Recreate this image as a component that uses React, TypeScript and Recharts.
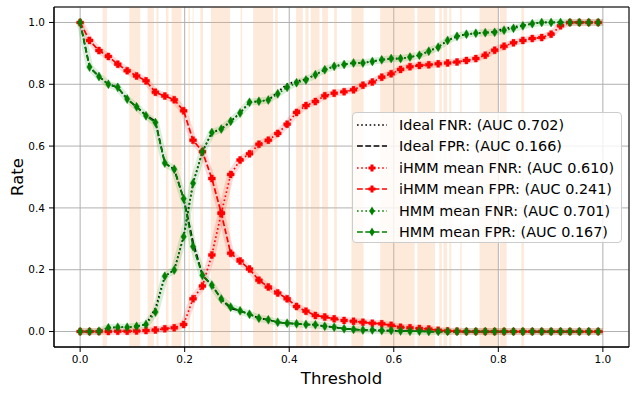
import { LineChart, Line, XAxis, YAxis, CartesianGrid, ReferenceArea, Legend, Label } from 'recharts'

// marker thresholds (every 18th of 1000 samples) plus the final threshold
const thresholds = [
  0, 0.018, 0.036, 0.054, 0.072, 0.09, 0.108, 0.126, 0.144, 0.162,
  0.18, 0.198, 0.216, 0.234, 0.252, 0.27, 0.288, 0.306, 0.324, 0.342,
  0.36, 0.378, 0.396, 0.414, 0.432, 0.45, 0.468, 0.486, 0.505, 0.523,
  0.541, 0.559, 0.577, 0.595, 0.613, 0.631, 0.649, 0.667, 0.685, 0.703,
  0.721, 0.739, 0.757, 0.775, 0.793, 0.811, 0.829, 0.847, 0.865, 0.883,
  0.901, 0.919, 0.937, 0.955, 0.973, 0.991, 1.0,
]

const idealFNR = [
  0, 0, 0.001, 0.012, 0.014, 0.014, 0.017, 0.023, 0.075, 0.179,
  0.199, 0.307, 0.48, 0.582, 0.644, 0.655, 0.68, 0.707, 0.742, 0.745,
  0.749, 0.775, 0.8, 0.81, 0.816, 0.831, 0.847, 0.858, 0.864, 0.869,
  0.869, 0.874, 0.879, 0.883, 0.883, 0.888, 0.894, 0.907, 0.92, 0.942,
  0.955, 0.962, 0.965, 0.967, 0.97, 0.98, 0.985, 0.99, 0.996, 1,
  1, 1, 1, 1, 1, 1, 1,
]

const idealFPR = [
  1, 0.856, 0.825, 0.8, 0.79, 0.752, 0.727, 0.7, 0.68, 0.545,
  0.525, 0.43, 0.29, 0.182, 0.15, 0.105, 0.075, 0.067, 0.056, 0.043,
  0.038, 0.03, 0.027, 0.025, 0.023, 0.022, 0.017, 0.014, 0.009, 0.007,
  0.005, 0.005, 0.003, 0.003, 0.002, 0.001, 0.001, 0, 0, 0,
  0, 0, 0, 0, 0, 0, 0, 0, 0, 0,
  0, 0, 0, 0, 0, 0, 0,
]

const ihmmFNR = [
  0, 0, 0, 0, 0.001, 0.001, 0.002, 0.003, 0.005, 0.009,
  0.012, 0.023, 0.106, 0.147, 0.248, 0.383, 0.508, 0.555, 0.575, 0.606,
  0.619, 0.641, 0.671, 0.709, 0.731, 0.744, 0.763, 0.771, 0.776, 0.782,
  0.797, 0.807, 0.823, 0.834, 0.848, 0.857, 0.861, 0.863, 0.866, 0.869,
  0.872, 0.877, 0.883, 0.894, 0.91, 0.923, 0.934, 0.942, 0.948, 0.951,
  0.962, 0.989, 1, 1, 1, 1, 1,
]

const ihmmFPR = [
  1, 0.942, 0.909, 0.89, 0.865, 0.844, 0.827, 0.811, 0.774, 0.762,
  0.75, 0.714, 0.619, 0.582, 0.495, 0.383, 0.253, 0.228, 0.202, 0.166,
  0.144, 0.125, 0.106, 0.081, 0.066, 0.052, 0.047, 0.041, 0.036, 0.033,
  0.03, 0.027, 0.025, 0.02, 0.014, 0.012, 0.01, 0.008, 0.004, 0.002,
  0.001, 0, 0, 0, 0, 0, 0, 0, 0, 0,
  0, 0, 0, 0, 0, 0, 0,
]

const hmmFNR = [
  0, 0, 0.001, 0.012, 0.014, 0.014, 0.017, 0.023, 0.063, 0.179,
  0.199, 0.307, 0.48, 0.582, 0.644, 0.655, 0.68, 0.707, 0.742, 0.745,
  0.749, 0.769, 0.79, 0.805, 0.814, 0.831, 0.847, 0.858, 0.864, 0.869,
  0.869, 0.874, 0.879, 0.883, 0.883, 0.888, 0.894, 0.907, 0.92, 0.942,
  0.955, 0.962, 0.965, 0.967, 0.968, 0.975, 0.981, 0.989, 0.996, 1,
  1, 1, 1, 1, 1, 1, 1,
]

const hmmFPR = [
  1, 0.856, 0.825, 0.8, 0.79, 0.752, 0.727, 0.698, 0.676, 0.545,
  0.525, 0.43, 0.275, 0.182, 0.15, 0.105, 0.079, 0.067, 0.056, 0.043,
  0.038, 0.03, 0.027, 0.025, 0.023, 0.022, 0.017, 0.014, 0.009, 0.007,
  0.005, 0.005, 0.003, 0.003, 0.002, 0.001, 0.001, 0, 0, 0,
  0, 0, 0, 0, 0, 0, 0, 0, 0, 0,
  0, 0, 0, 0, 0, 0, 0,
]

// shaded threshold ranges in the background
const bands: [number, number][] = [
  [0.043, 0.051], [0.094, 0.115], [0.129, 0.141], [0.146, 0.15], [0.164, 0.169],
  [0.175, 0.194], [0.207, 0.21], [0.215, 0.217], [0.23, 0.235], [0.25, 0.287],
  [0.307, 0.31], [0.331, 0.369], [0.373, 0.378], [0.413, 0.426], [0.431, 0.437],
  [0.441, 0.458], [0.463, 0.474], [0.486, 0.491], [0.519, 0.542], [0.574, 0.64],
  [0.645, 0.679], [0.687, 0.692], [0.695, 0.702], [0.706, 0.71], [0.727, 0.73],
  [0.764, 0.8], [0.803, 0.816], [0.844, 0.849],
]

const axisTicks = [0, 0.2, 0.4, 0.6, 0.8, 1.0]

const RED = '#ff0000'
const GREEN = '#008000'
const DOTTED = '1.6 2.6'
const DASHED = '5.8 2.5'
const FONT = '"DejaVu Sans", sans-serif'
const MARKED = 56 // last row (threshold 1.0) carries no marker

const rows = thresholds.map((x, i) => ({
  x,
  idealFNR: idealFNR[i],
  idealFPR: idealFPR[i],
  ihmmFNR: ihmmFNR[i],
  ihmmFPR: ihmmFPR[i],
  hmmFNR: hmmFNR[i],
  hmmFPR: hmmFPR[i],
}))

function plusPath(cx: number, cy: number) {
  const s = 3.5
  const w = 1.5
  const a = s - w
  return `M${cx - w},${cy - s}h${2 * w}v${a}h${a}v${2 * w}h${-a}v${a}h${-2 * w}v${-a}h${-a}v${-2 * w}h${a}z`
}

function diamondPath(cx: number, cy: number) {
  return `M${cx},${cy - 4.5}L${cx + 2.7},${cy}L${cx},${cy + 4.5}L${cx - 2.7},${cy}Z`
}

function markerDot(kind: 'plus' | 'diamond', color: string) {
  return (props: any) => {
    const { cx, cy, index } = props
    if (index >= MARKED || cx == null || cy == null) return <g key={`m${index}`} />
    const d = kind === 'plus' ? plusPath(cx, cy) : diamondPath(cx, cy)
    return <path key={`m${index}`} d={d} fill={color} stroke={color} strokeWidth={0.4} />
  }
}

const legendItems = [
  { label: 'Ideal FNR: (AUC 0.702)', color: '#000', dash: DOTTED, marker: null },
  { label: 'Ideal FPR: (AUC 0.166)', color: '#000', dash: DASHED, marker: null },
  { label: 'iHMM mean FNR: (AUC 0.610)', color: RED, dash: DOTTED, marker: 'plus' },
  { label: 'iHMM mean FPR: (AUC 0.241)', color: RED, dash: DASHED, marker: 'plus' },
  { label: 'HMM mean FNR: (AUC 0.701)', color: GREEN, dash: DOTTED, marker: 'diamond' },
  { label: 'HMM mean FPR: (AUC 0.167)', color: GREEN, dash: DASHED, marker: 'diamond' },
]

function LegendBox() {
  return (
    <div
      style={{
        width: 270,
        height: 131,
        boxSizing: 'border-box',
        background: 'rgba(255,255,255,0.8)',
        border: '1px solid #cccccc',
        borderRadius: 4,
        padding: '1px 0 0 4px',
        fontFamily: FONT,
        fontSize: 14.4,
        color: '#000',
      }}
    >
      {legendItems.map((item) => (
        <div key={item.label} style={{ display: 'flex', alignItems: 'center', height: 21.5 }}>
          <svg width={30} height={12} style={{ display: 'block' }}>
            <line x1={0} y1={6} x2={30} y2={6} stroke={item.color} strokeWidth={1.7} strokeDasharray={item.dash} />
            {item.marker === 'plus' && <path d={plusPath(15, 6)} fill={item.color} />}
            {item.marker === 'diamond' && <path d={diamondPath(15, 6)} fill={item.color} />}
          </svg>
          <span style={{ marginLeft: 12, whiteSpace: 'nowrap' }}>{item.label}</span>
        </div>
      ))}
    </div>
  )
}

export default function App() {
  const tick = { fontSize: 10.5, fill: '#000', fontFamily: FONT }
  return (
    <div style={{ position: 'absolute', left: 0, top: 0, background: '#fff' }}>
      <LineChart width={638} height={395} data={rows} margin={{ top: 7, right: 9, bottom: 0, left: 0 }}>
        <CartesianGrid stroke="#b0b0b0" strokeWidth={1} />
        {bands.map(([a, b]) => (
          <ReferenceArea key={`b${a}`} x1={a} x2={b} fill="#f7b27a" fillOpacity={0.28} stroke="none" />
        ))}
        <XAxis
          type="number"
          dataKey="x"
          domain={[-0.05, 1.05]}
          ticks={axisTicks}
          tickFormatter={(v: number) => v.toFixed(1)}
          tick={tick}
          tickSize={5}
          tickMargin={4}
          tickLine={{ stroke: '#000' }}
          axisLine={{ stroke: '#000' }}
          height={48}
        >
          <Label
            content={({ viewBox }: any) => (
              <text
                x={viewBox.x + viewBox.width / 2}
                y={viewBox.y + 37}
                textAnchor="middle"
                fontSize={16.5}
                fontFamily={FONT}
                fill="#000"
              >
                Threshold
              </text>
            )}
          />
        </XAxis>
        <YAxis
          type="number"
          domain={[-0.05, 1.05]}
          ticks={axisTicks}
          tickFormatter={(v: number) => v.toFixed(1)}
          tick={tick}
          tickSize={5}
          tickMargin={4}
          tickLine={{ stroke: '#000' }}
          axisLine={{ stroke: '#000' }}
          width={54}
        >
          <Label
            content={({ viewBox }: any) => {
              const cx = viewBox.x + 17
              const cy = viewBox.y + viewBox.height / 2
              return (
                <text
                  x={cx}
                  y={cy}
                  transform={`rotate(-90 ${cx} ${cy})`}
                  textAnchor="middle"
                  dominantBaseline="central"
                  fontSize={16.5}
                  fontFamily={FONT}
                  fill="#000"
                >
                  Rate
                </text>
              )
            }}
          />
        </YAxis>

        {/* translucent halos under the model curves */}
        <Line dataKey="ihmmFNR" stroke={RED} strokeOpacity={0.14} strokeWidth={7} dot={false} activeDot={false} isAnimationActive={false} legendType="none" strokeLinejoin="round" />
        <Line dataKey="ihmmFPR" stroke={RED} strokeOpacity={0.14} strokeWidth={7} dot={false} activeDot={false} isAnimationActive={false} legendType="none" strokeLinejoin="round" />
        <Line dataKey="hmmFNR" stroke={GREEN} strokeOpacity={0.14} strokeWidth={7} dot={false} activeDot={false} isAnimationActive={false} legendType="none" strokeLinejoin="round" />
        <Line dataKey="hmmFPR" stroke={GREEN} strokeOpacity={0.14} strokeWidth={7} dot={false} activeDot={false} isAnimationActive={false} legendType="none" strokeLinejoin="round" />

        <Line dataKey="idealFNR" stroke="#000" strokeWidth={1.7} strokeDasharray={DOTTED} dot={false} isAnimationActive={false} />
        <Line dataKey="idealFPR" stroke="#000" strokeWidth={1.7} strokeDasharray={DASHED} dot={false} isAnimationActive={false} />
        <Line dataKey="ihmmFNR" stroke={RED} strokeWidth={1.7} strokeDasharray={DOTTED} dot={markerDot('plus', RED)} isAnimationActive={false} />
        <Line dataKey="ihmmFPR" stroke={RED} strokeWidth={1.7} strokeDasharray={DASHED} dot={markerDot('plus', RED)} isAnimationActive={false} />
        <Line dataKey="hmmFNR" stroke={GREEN} strokeWidth={1.7} strokeDasharray={DOTTED} dot={markerDot('diamond', GREEN)} isAnimationActive={false} />
        <Line dataKey="hmmFPR" stroke={GREEN} strokeWidth={1.7} strokeDasharray={DASHED} dot={markerDot('diamond', GREEN)} isAnimationActive={false} />

        <ReferenceArea x1={-0.05} x2={1.05} y1={-0.05} y2={1.05} fill="none" stroke="#000" strokeWidth={1} ifOverflow="visible" />
        <Legend
          layout="vertical"
          align="center"
          verticalAlign="middle"
          content={() => <LegendBox />}
          wrapperStyle={{ left: 352, top: 112, width: 270, height: 131 }}
        />
      </LineChart>
    </div>
  )
}
